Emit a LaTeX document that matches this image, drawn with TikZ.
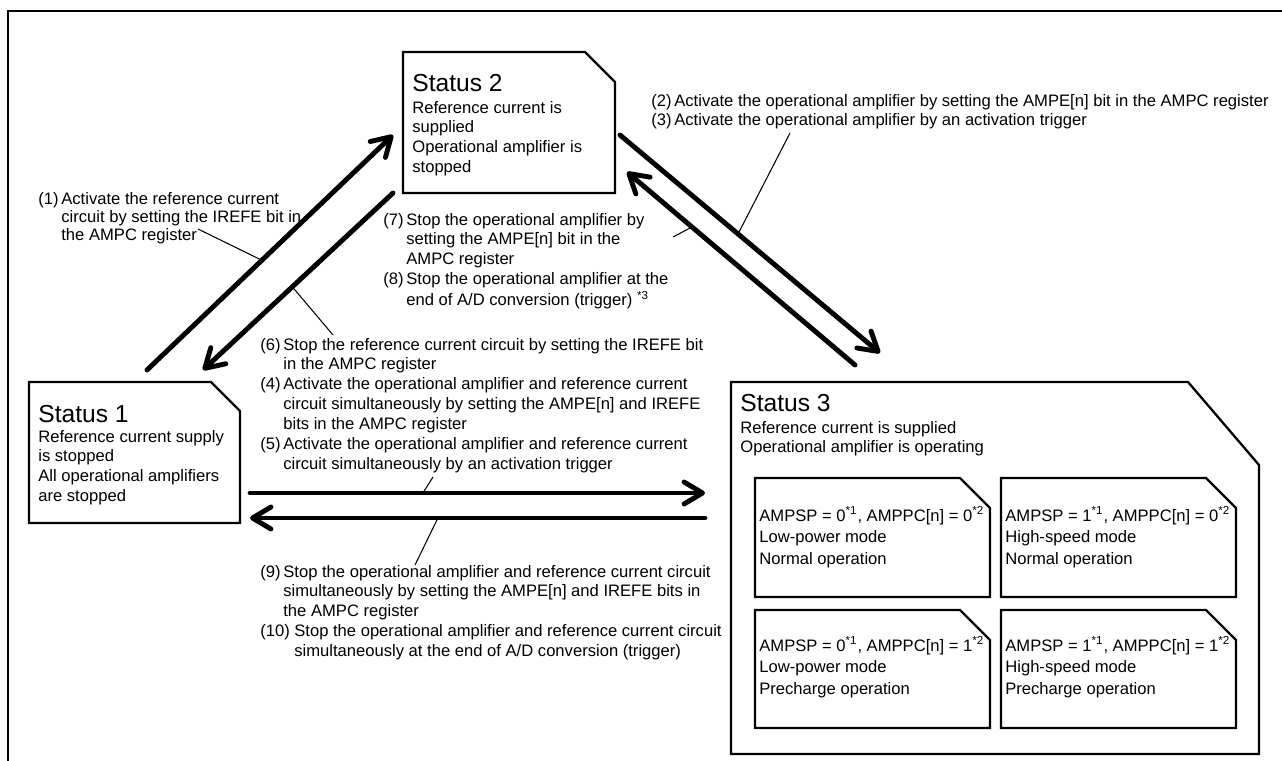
\documentclass[tikz,border=0pt]{standalone}
\usepackage{fontspec}
\setmainfont{Liberation Sans}
\usetikzlibrary{arrows.meta,fit,calc}
\newcommand{\lblfont}{\fontsize{9.45}{11.38}\selectfont}
\newcommand{\tightfont}{\fontsize{9.45}{10.25}\selectfont}
\newcommand{\modefont}{\fontsize{9.45}{12.5}\selectfont}
\newcommand{\ttlfont}{\fontsize{14}{17}\selectfont}
\newcommand{\lines}[1]{\begin{tabular}[t]{@{}l@{}}#1\end{tabular}}
\newcommand{\steps}[1]{\begin{tabular}[t]{@{}p{0.46cm}@{}l@{}}#1\end{tabular}}

\begin{document}
\begin{tikzpicture}[x=0.02cm, y=-0.02cm,
  statebox/.style={inner sep=0pt, outer sep=0pt},
  outline/.style={line width=1.3pt},
  flow/.style={line width=2.8pt, line cap=round,
               -{Straight Barb[length=0.37cm,width=0.44cm,round]}},
  lead/.style={line width=0.6pt},
  ttl/.style={font=\ttlfont, inner sep=0pt, anchor=base west},
  txt/.style={font=\lblfont, inner sep=0pt, anchor=base west}
]
  \useasboundingbox (0,0) rectangle (1282,761);
  \draw[line width=1.7pt] (8,761) |- (1282,11);

  % status boxes
  \node[statebox, fit={(29,382) (240,523)}]   (s1) {};
  \node[statebox, fit={(403,52) (615,193)}]   (s2) {};
  \node[statebox, fit={(731,382) (1259,754)}] (s3) {};
  \node[statebox, fit={(755,478) (990,597)}]   (m1) {};
  \node[statebox, fit={(1001,478) (1236,597)}] (m2) {};
  \node[statebox, fit={(755,610) (990,728)}]   (m3) {};
  \node[statebox, fit={(1001,610) (1236,728)}] (m4) {};
  \foreach \n/\cx/\cy in {s1/0.58/0.58, s2/0.6/0.6, s3/1.42/1.66,
                          m1/0.6/0.6, m2/0.6/0.6, m3/0.6/0.6, m4/0.6/0.6}
    \draw[outline] (\n.south west) |- ([xshift=-\cx cm]\n.north east)
      -- ([yshift=-\cy cm]\n.north east) |- (\n.south west) -- cycle;

  \node[ttl] (s1t) at (38,422) {Status 1};
  \node[txt] (s1x) at (38,442) {\lines{Reference current supply\\is stopped\\
    All operational amplifiers\\are stopped}};
  \node[ttl] (s2t) at (412,91) {Status 2};
  \node[txt] (s2x) at (412,113) {\lines{Reference current is\\supplied\\
    Operational amplifier is\\stopped}};
  \node[ttl] (s3t) at (740,411) {Status 3};
  \node[txt] (s3x) at (740,433) {\lines{Reference current is supplied\\
    Operational amplifier is operating}};

  \node[txt, font=\modefont] (m1x) at (759,521) {\lines{AMPSP = 0\textsuperscript{*1},
    AMPPC[n] = 0\textsuperscript{*2}\\Low-power mode\\Normal operation}};
  \node[txt, font=\modefont] (m2x) at (1005,521) {\lines{AMPSP = 1\textsuperscript{*1},
    AMPPC[n] = 0\textsuperscript{*2}\\High-speed mode\\Normal operation}};
  \node[txt, font=\modefont] (m3x) at (759,651) {\lines{AMPSP = 0\textsuperscript{*1},
    AMPPC[n] = 1\textsuperscript{*2}\\Low-power mode\\Precharge operation}};
  \node[txt, font=\modefont] (m4x) at (1005,651) {\lines{AMPSP = 1\textsuperscript{*1},
    AMPPC[n] = 1\textsuperscript{*2}\\High-speed mode\\Precharge operation}};

  % transitions
  \draw[flow] ([shift={(12.5,-12)}]s1.north) -- coordinate[pos=0.467] (p1)
    ([shift={(-10,12.5)}]s2.west);
  \draw[flow] ([shift={(-10,0)}]s2.south west) -- coordinate[pos=0.53] (p6)
    ([shift={(68.5,-12)}]s1.north);
  \draw[flow] ([shift={(5,12.5)}]s2.east) -- coordinate[pos=0.454] (p2)
    ([shift={(149,-29)}]s3.north west);
  \draw[flow] ([shift={(124,-17)}]s3.north west) -- coordinate[pos=0.715] (p7)
    ([shift={(12,49.5)}]s2.east);
  \draw[flow] ([shift={(10,40.5)}]s1.east) -- coordinate[pos=0.38] (p5)
    ([shift={(-26,-75)}]s3.west);
  \draw[flow] ([shift={(-26,-50)}]s3.west) -- coordinate[pos=0.587] (p9)
    ([shift={(10,65.5)}]s1.east);

  % labels
  \node[txt, font=\tightfont] (n1) at (38,204) {\steps{
    (1) & Activate the reference current\\
        & circuit by setting the IREFE bit in\\
        & the AMPC register}};
  \node[txt] (n23) at (651,106) {\steps{
    (2) & Activate the operational amplifier by setting the AMPE[n] bit in the AMPC register\\
    (3) & Activate the operational amplifier by an activation trigger}};
  \node[txt] (n78) at (383,225) {\steps{
    (7) & Stop the operational amplifier by\\
        & setting the AMPE[n] bit in the\\
        & AMPC register\\
    (8) & Stop the operational amplifier at the\\
        & end of A/D conversion (trigger) \textsuperscript{*3}}};
  \node[txt] (n645) at (260,350) {\steps{
    (6) & Stop the reference current circuit by setting the IREFE bit\\
        & in the AMPC register\\
    (4) & Activate the operational amplifier and reference current\\
        & circuit simultaneously by setting the AMPE[n] and IREFE\\
        & bits in the AMPC register\\
    (5) & Activate the operational amplifier and reference current\\
        & circuit simultaneously by an activation trigger}};
  \node[txt] (n910) at (260,577) {\steps{
    (9) & Stop the operational amplifier and reference current circuit\\
        & simultaneously by setting the AMPE[n] and IREFE bits in\\
        & the AMPC register\\
    \multicolumn{2}{@{}l@{}}{\makebox[0.68cm][l]{(10)}Stop the operational amplifier and reference current circuit}\\
    \multicolumn{2}{@{}l@{}}{\hspace{0.68cm}simultaneously at the end of A/D conversion (trigger)}}};

  % leader lines
  \coordinate (q1) at (198,229);
  \coordinate (q6) at (333,335);
  \coordinate (q2) at (790,133);
  \coordinate (q7) at (673,237);
  \coordinate (q5) at (433,477);
  \coordinate (q9) at (415,565);
  \draw[lead] (q1) -- (p1);
  \draw[lead] (p6) -- (q6);
  \draw[lead] (q2) -- (p2);
  \draw[lead] (q7) -- (p7);
  \draw[lead] (q5) -- (p5);
  \draw[lead] (p9) -- (q9);
\end{tikzpicture}
\end{document}
